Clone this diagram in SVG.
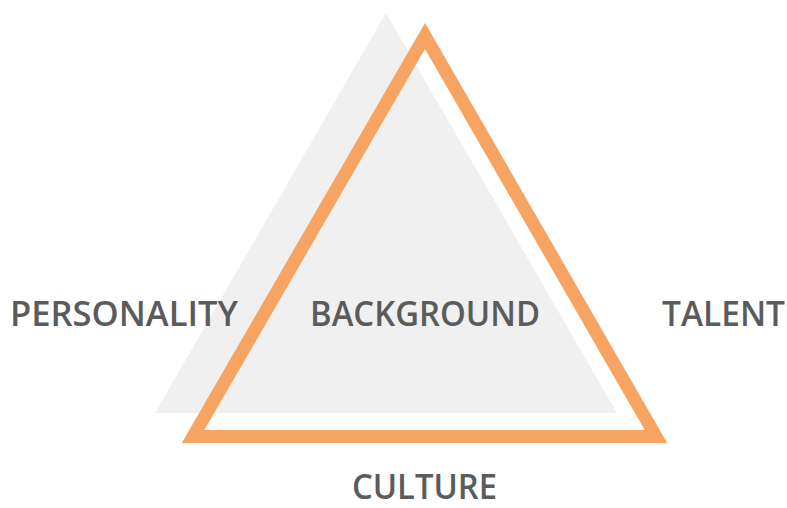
<svg xmlns="http://www.w3.org/2000/svg" width="787" height="508" viewBox="0 0 787 508">
  <style>
    .label { font-family: "Open Sans", "Noto Sans", "Liberation Sans", sans-serif; font-weight: 600; font-size: 34px; fill: #5b5b5b; text-anchor: middle; }
  </style>
  <rect width="787" height="508" fill="#ffffff"/>
  <!-- shaded back triangle -->
  <g id="shade">
    <polygon points="386,13 155,413 617,413" fill="#f0f0f0"/>
  </g>
  <!-- orange outline triangle -->
  <g id="frame">
    <polygon points="425,36 193,436.5 656,436.5" fill="none" stroke="#f7a463" stroke-width="13" stroke-linejoin="miter" stroke-miterlimit="4"/>
  </g>
  <g id="background"><text class="label" x="425" y="326" textLength="230" lengthAdjust="spacingAndGlyphs">BACKGROUND</text></g>
  <g id="personality"><text class="label" x="124" y="326" textLength="228" lengthAdjust="spacingAndGlyphs">PERSONALITY</text></g>
  <g id="talent"><text class="label" x="723.5" y="326" textLength="123" lengthAdjust="spacingAndGlyphs">TALENT</text></g>
  <g id="culture"><text class="label" x="424.5" y="499" textLength="145" lengthAdjust="spacingAndGlyphs">CULTURE</text></g>
</svg>
